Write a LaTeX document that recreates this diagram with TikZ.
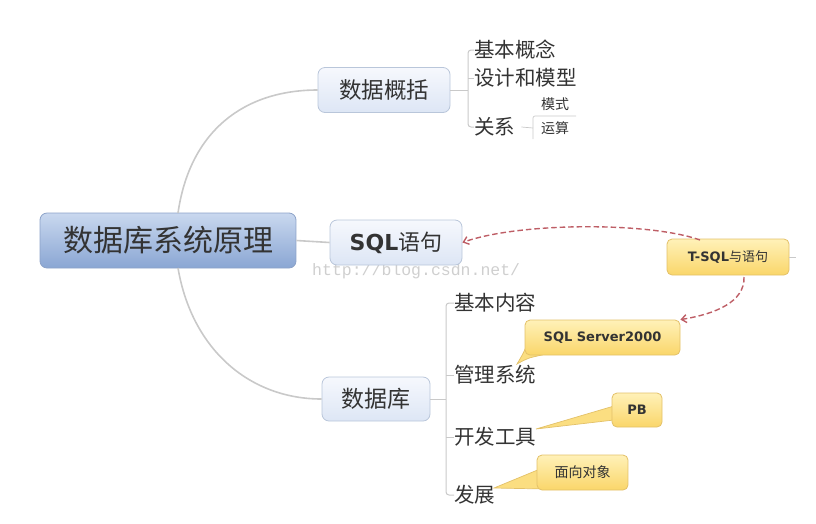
\documentclass[tikz,border=0pt]{standalone}
\usepackage{fontspec}
\setmainfont{Noto Sans CJK SC}
\newfontfamily\latb{DejaVu Sans}
\newfontfamily\wmfont{Liberation Mono}
\usetikzlibrary{arrows.meta}
\definecolor{bluebd}{HTML}{B9C6DA}
\definecolor{bluetop}{HTML}{F6F8FD}
\definecolor{bluebot}{HTML}{DDE6F5}
\definecolor{rootbd}{HTML}{8CA2C8}
\definecolor{roottop}{HTML}{C9D8EF}
\definecolor{rootbot}{HTML}{8AA6D3}
\definecolor{yelbd}{HTML}{E3C169}
\definecolor{yeltop}{HTML}{FFF1B8}
\definecolor{yelbot}{HTML}{FAD66A}
\definecolor{txt}{HTML}{333333}
\definecolor{linec}{HTML}{C9C9C9}
\definecolor{dashc}{HTML}{BE5E66}
\definecolor{wmc}{HTML}{CFCFCF}
\begin{document}
\begin{tikzpicture}[x=1pt,y=-1pt,
  rootbox/.style={rounded corners=7pt, draw=rootbd, line width=0.8pt, top color=roottop, bottom color=rootbot, text=txt, inner sep=0pt},
  bluebox/.style={rounded corners=7pt, draw=bluebd, line width=0.8pt, top color=bluetop, bottom color=bluebot, text=txt, inner sep=0pt},
  yelbox/.style={rounded corners=5pt, draw=yelbd, line width=0.8pt, top color=yeltop, bottom color=yelbot, text=txt, inner sep=0pt},
  wedge/.style={fill=yelbot!70!yeltop, draw=yelbd, line width=0.7pt},
  branch/.style={draw=linec, line width=1.6pt},
  sub/.style={draw=linec, line width=1pt},
  leaf/.style={anchor=west, inner sep=0pt, text=txt, font=\fontsize{20.5}{20.5}\selectfont},
  small/.style={anchor=west, inner sep=0pt, text=txt, font=\fontsize{14}{14}\selectfont},
  dasharrow/.style={draw=dashc, line width=1.4pt, dash pattern=on 5.5pt off 3pt, -{Straight Barb[length=5pt,width=8pt]}}
]
\useasboundingbox (0,0) rectangle (816,523);

% watermark
\node[text=wmc, inner sep=0pt, anchor=west, font=\wmfont\fontsize{16.5}{16.5}\selectfont] (wm) at (312,271) {http://blog.csdn.net/};

% main boxes
\node[rootbox, minimum width=256pt, minimum height=55pt] (root) at (168,240.5) {\fontsize{30}{30}\selectfont 数据库系统原理};
\node[bluebox, minimum width=132pt, minimum height=45pt] (gk) at (384,90) {\fontsize{22.5}{22.5}\selectfont 数据概括};
\node[bluebox, minimum width=132pt, minimum height=45pt] (sql) at (396,242.5) {\fontsize{22}{22}\selectfont{\latb\bfseries SQL}语句};
\node[bluebox, minimum width=108pt, minimum height=44pt] (db) at (376,399) {\fontsize{23}{23}\selectfont 数据库};

% root connectors
\draw[branch] (178,213) .. controls (190,130) and (245,90) .. (gk.west);
\draw[branch] (root.east) -- (sql.west);
\draw[branch] (178,268) .. controls (192,350) and (250,399) .. (db.west);

% 数据概括 children
\node[leaf] (c1) at (474,50) {基本概念};
\node[leaf] (c2) at (474,78) {设计和模型};
\node[leaf] (c3) at (474,127) {关系};
\draw[sub] (gk.east) -- (468,90);
\draw[sub, rounded corners=3pt] (c1.west) -- (468,50) -- (468,127) -- (c3.west);
\draw[sub] (468,78) -- (c2.west);
\node[small] (m1) at (541,104) {模式};
\node[small] (m2) at (541,128) {运算};
\draw[sub, line width=0.7pt] (c3.east) ++(6,0) -- (533,128);
\draw[sub, line width=0.7pt, rounded corners=2pt] (576,116) -- (533,116) -- (533,139);

% 数据库 children
\node[leaf] (d1) at (454,303) {基本内容};
\node[leaf] (d2) at (454,375) {管理系统};
\node[leaf] (d3) at (454,437) {开发工具};
\node[leaf] (d4) at (454,495) {发展};
\draw[sub] (db.east) -- (446,399);
\draw[sub, rounded corners=3pt] (d1.west) -- (446,303) -- (446,495) -- (d4.west);
\draw[sub] (446,375) -- (d2.west);
\draw[sub] (446,437) -- (d3.west);

% callout wedges
\fill[wedge] (527,344) .. controls (524,352) .. (517,364) .. controls (528,358) .. (542,355) -- cycle;
\fill[wedge] (614,406) -- (536,429) -- (614,420) -- cycle;
\fill[wedge] (540,469) -- (494,488) -- (546,489) -- cycle;

% callouts
\node[yelbox, minimum width=122pt, minimum height=36pt] (tsql) at (728,257) {\fontsize{13}{13}\selectfont{\latb\bfseries T-SQL}与语句};
\draw[sub, line width=0.7pt] (tsql.east) -- ++(7,0);
\node[yelbox, minimum width=155pt, minimum height=35pt] (ss) at (602.5,337.5) {\latb\bfseries\fontsize{13}{13}\selectfont SQL Server2000};
\node[yelbox, minimum width=50pt, minimum height=34pt] (pb) at (637,410) {\latb\bfseries\fontsize{13}{13}\selectfont PB};
\node[yelbox, minimum width=91pt, minimum height=35pt] (mx) at (582.5,472.5) {\fontsize{14}{14}\selectfont 面向对象};

% dashed relations
\draw[dasharrow] (700,240) .. controls (650,222) and (520,222) .. (sql.east);
\draw[dasharrow] (744,277) .. controls (745,302) and (715,314) .. (ss.north east);
\end{tikzpicture}
\end{document}
